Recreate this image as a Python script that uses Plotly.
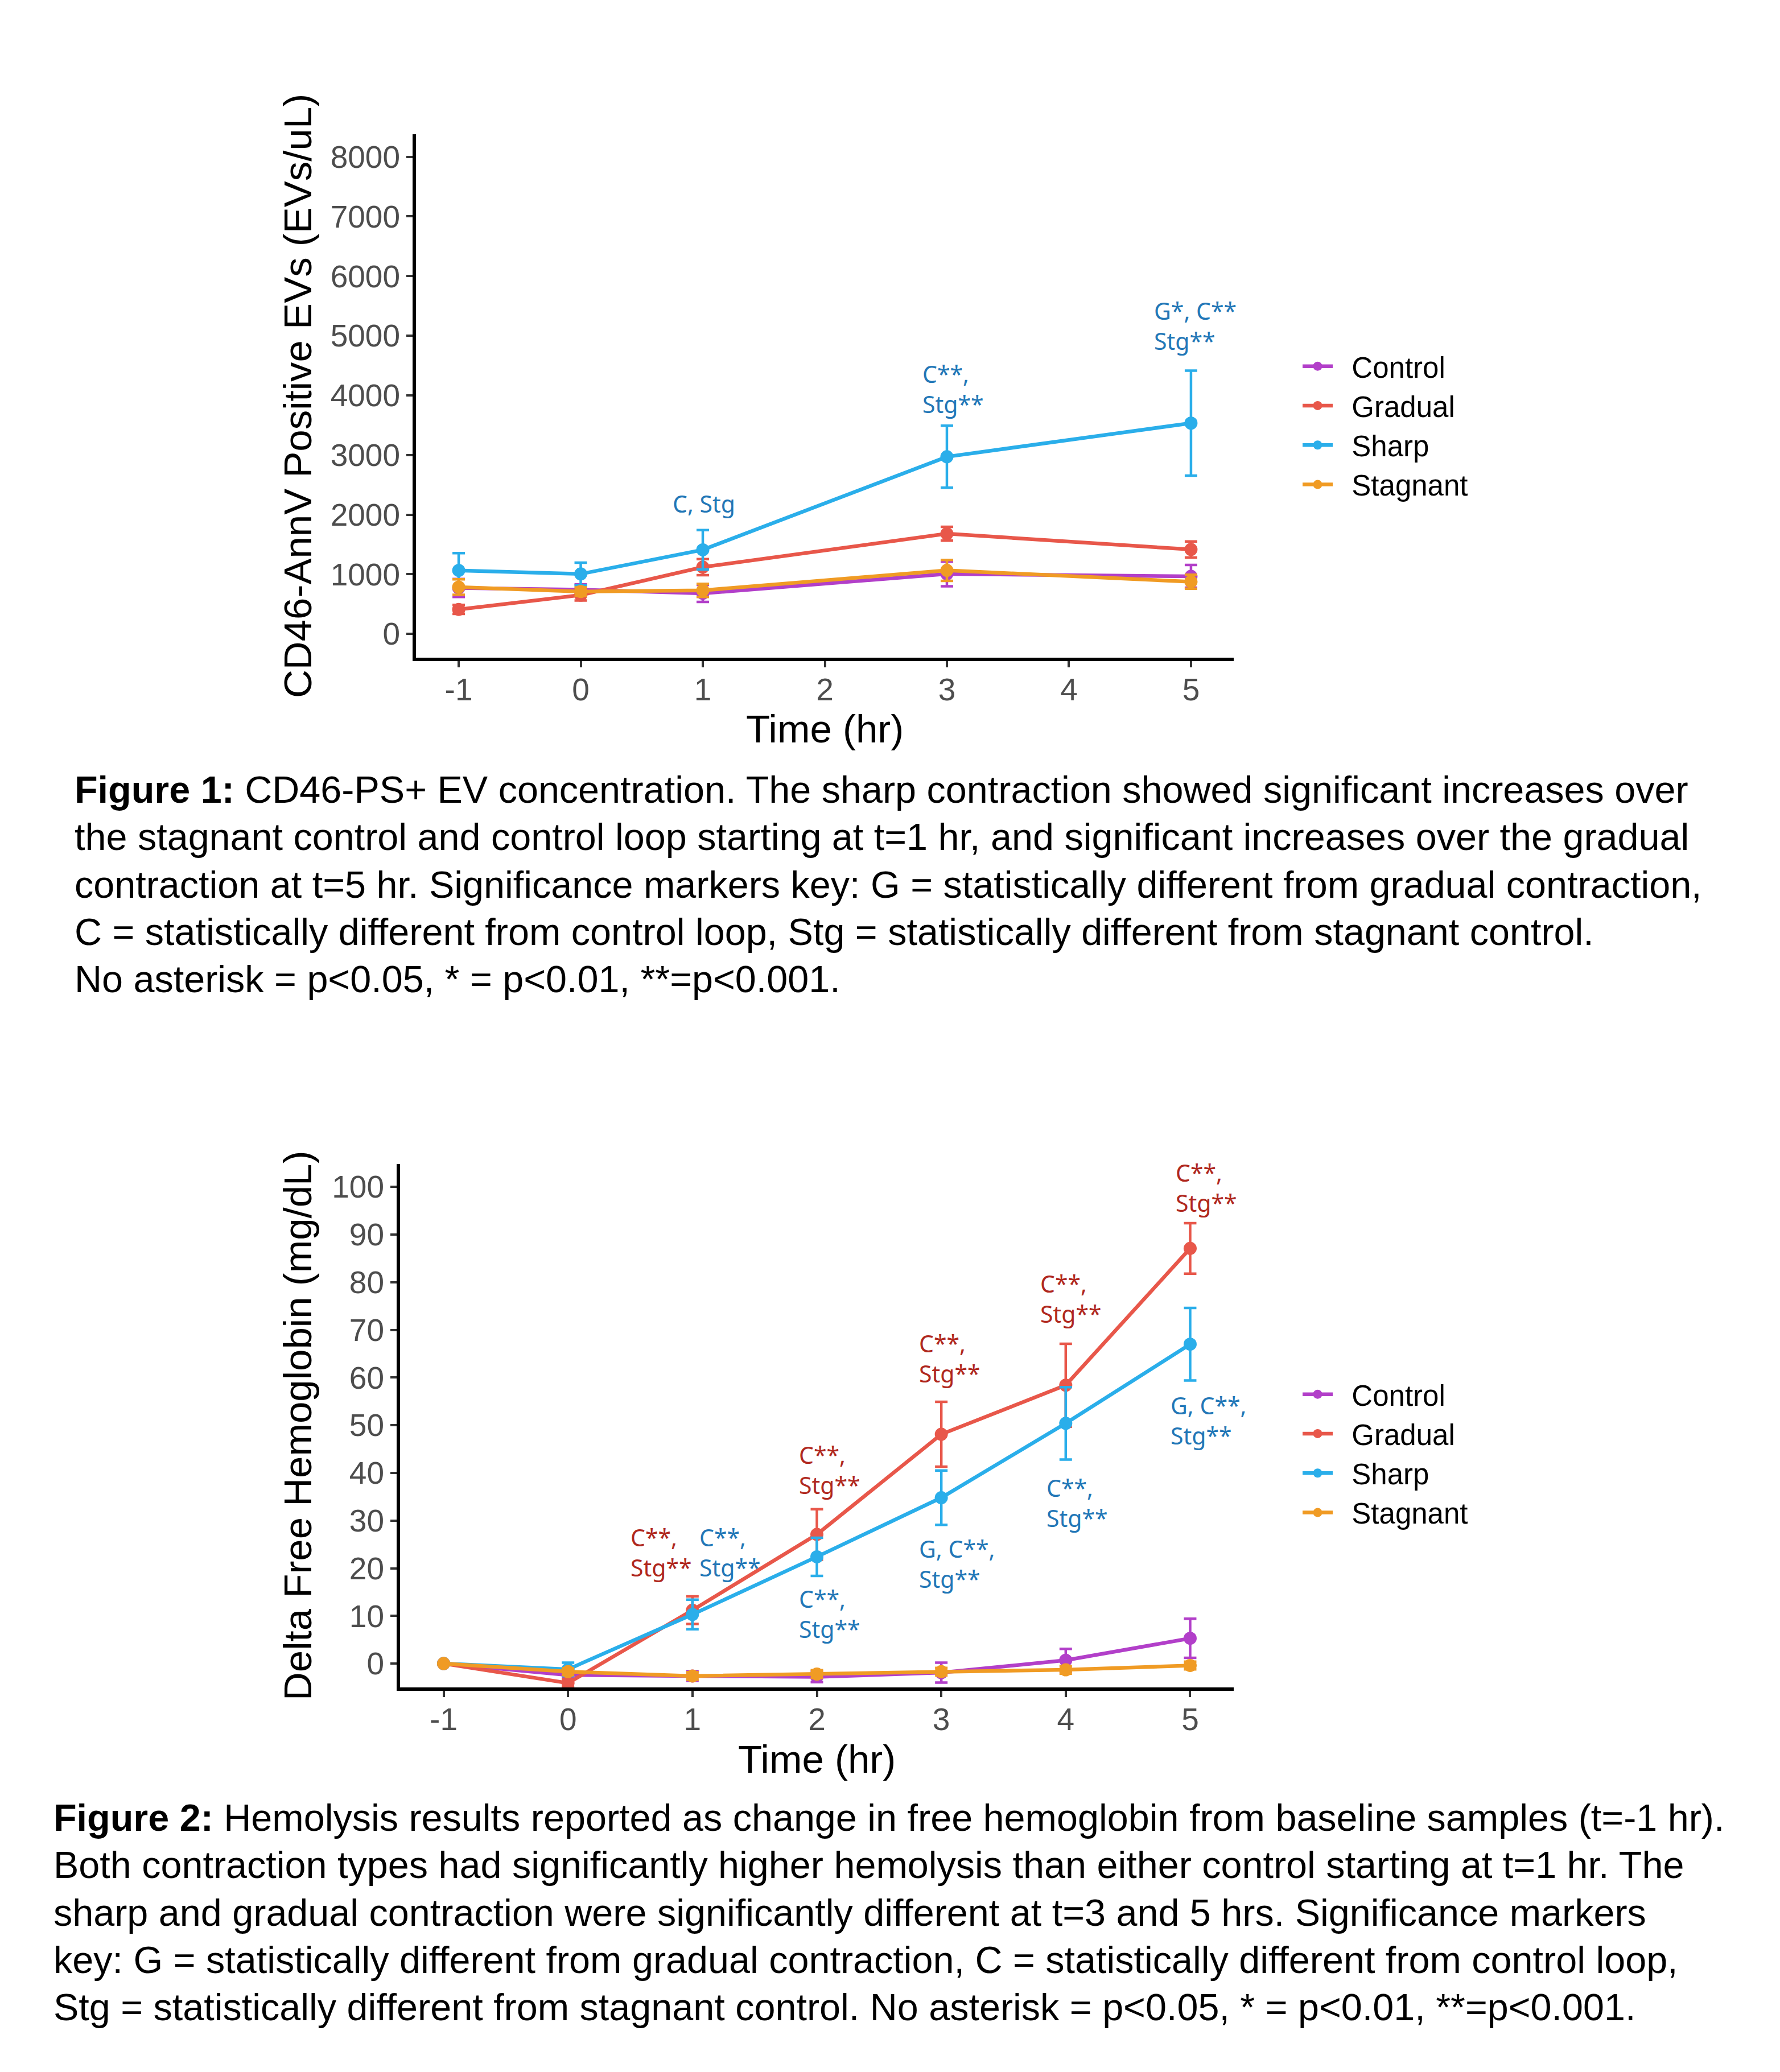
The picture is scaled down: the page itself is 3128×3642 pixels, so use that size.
import plotly.graph_objects as go

# page size; the HTML body has an 8 px default margin, so the figure is made
# 16 px smaller and all page-pixel positions are shifted by that margin.
PAGE_W, PAGE_H = 3128, 3642
OFF = 8
W, H = PAGE_W - 2 * OFF, PAGE_H - 2 * OFF

# ---------------- data: Figure 1 (CD46-AnnV positive EVs) ----------------
time1 = [-1, 0, 1, 3, 5]
cd46_control = [770, 740, 680, 1005, 965]
cd46_control_err = [150, 90, 143, 207, 190]
cd46_gradual = [410, 650, 1120, 1680, 1415]
cd46_gradual_err = [75, 90, 135, 115, 135]
cd46_sharp = [1064, 1005, 1410, 2970, 3534]
cd46_sharp_err = [290, 190, 330, 520, 880]
cd46_stagnant = [785, 710, 730, 1065, 875]
cd46_stagnant_err = [130, 70, 110, 175, 117]

sig1_text = ["C, Stg", "C**,<br>Stg**", "G*, C**<br>Stg**"]
sig1_x = [0.745, 2.79, 4.69]
sig1_y = [2183, 4112, 5172]

# ---------------- data: Figure 2 (delta free hemoglobin) ----------------
time2 = [-1, 0, 1, 2, 3, 4, 5]
hb_control = [0, -2.4, -2.6, -2.8, -1.9, 0.7, 5.3]
hb_control_err = [0, 0.8, 1.0, 1.1, 2.1, 2.4, 4.1]
hb_gradual = [0, -4.1, 11.2, 27.1, 48.1, 58.4, 87.1]
hb_gradual_err = [0, 0.8, 2.9, 5.3, 6.8, 8.7, 5.3]
hb_sharp = [0, -1.2, 10.3, 22.4, 34.8, 50.4, 67.0]
hb_sharp_err = [0, 1.4, 3.1, 4.0, 5.7, 7.6, 7.6]
hb_stagnant = [0, -1.7, -2.6, -2.2, -1.7, -1.3, -0.4]
hb_stagnant_err = [0, 0.7, 0.8, 0.8, 0.8, 0.8, 0.8]

sig2_red_text = ["C**,<br>Stg**"] * 5
sig2_red_x = [0.493, 1.845, 2.814, 3.784, 4.874]
sig2_red_y = [23.4, 40.7, 64.1, 76.6, 99.8]
sig2_blue_text = ["C**,<br>Stg**", "C**,<br>Stg**", "G, C**,<br>Stg**", "C**,<br>Stg**", "G, C**,<br>Stg**"]
sig2_blue_x = [1.048, 1.845, 2.814, 3.836, 4.832]
sig2_blue_y = [23.4, 10.5, 20.9, 33.7, 51.0]

series_names = ["Control", "Gradual", "Sharp", "Stagnant"]
x_ticks = [-1, 0, 1, 2, 3, 4, 5]
y1_ticks = [0, 1000, 2000, 3000, 4000, 5000, 6000, 7000, 8000]
y2_ticks = [0, 10, 20, 30, 40, 50, 60, 70, 80, 90, 100]

caption1 = [
    "<b>Figure 1:</b> CD46-PS+ EV concentration. The sharp contraction showed significant increases over",
    "the stagnant control and control loop starting at t=1 hr, and significant increases over the gradual",
    "contraction at t=5 hr. Significance markers key: G = statistically different from gradual contraction,",
    "C = statistically different from control loop, Stg = statistically different from stagnant control.",
    "No asterisk = p&lt;0.05, * = p&lt;0.01, **=p&lt;0.001.",
]
caption2 = [
    "<b>Figure 2:</b> Hemolysis results reported as change in free hemoglobin from baseline samples (t=-1 hr).",
    "Both contraction types had significantly higher hemolysis than either control starting at t=1 hr. The",
    "sharp and gradual contraction were significantly different at t=3 and 5 hrs. Significance markers",
    "key: G = statistically different from gradual contraction, C = statistically different from control loop,",
    "Stg = statistically different from stagnant control. No asterisk = p&lt;0.05, * = p&lt;0.01, **=p&lt;0.001.",
]

# ---------------- styles ----------------
colors = {"Control": "#B23FC9", "Gradual": "#E8574A", "Sharp": "#2AAEEA", "Stagnant": "#F09B24"}
ann_blue = "#2277B7"
ann_red = "#B0281E"
FONT = "Liberation Sans"
ANN_FONT = "Noto Sans"
LEGEND_PAD = "\u00a0\u00a0"


def px_x(p):
    return (p - OFF) / W


def px_y(p):
    return 1 - (p - OFF) / H


fig = go.Figure()

fig1_series = [
    (cd46_control, cd46_control_err),
    (cd46_gradual, cd46_gradual_err),
    (cd46_sharp, cd46_sharp_err),
    (cd46_stagnant, cd46_stagnant_err),
]
fig2_series = [
    (hb_control, hb_control_err),
    (hb_gradual, hb_gradual_err),
    (hb_sharp, hb_sharp_err),
    (hb_stagnant, hb_stagnant_err),
]

for name, (vals, errs) in zip(series_names, fig1_series):
    c = colors[name]
    fig.add_trace(go.Scatter(
        x=time1, y=vals, name=LEGEND_PAD + name, mode="lines+markers",
        line=dict(color=c, width=6.5), marker=dict(color=c, size=23),
        error_y=dict(type="data", array=errs, visible=True, color=c, thickness=4.5, width=11),
        xaxis="x", yaxis="y", legend="legend",
    ))

for name, (vals, errs) in zip(series_names, fig2_series):
    c = colors[name]
    fig.add_trace(go.Scatter(
        x=time2, y=vals, name=LEGEND_PAD + name, mode="lines+markers",
        line=dict(color=c, width=6.5), marker=dict(color=c, size=23),
        error_y=dict(type="data", array=errs, visible=True, color=c, thickness=4.5, width=11),
        xaxis="x2", yaxis="y2", legend="legend2",
    ))

axis_common = dict(
    showline=True, linecolor="black", linewidth=6,
    ticks="outside", ticklen=11, tickwidth=4, tickcolor="#333333",
    tickfont=dict(family=FONT, size=55, color="#4D4D4D"),
    showgrid=False, zeroline=False,
)

# panel boxes in page pixels
p1_left, p1_right, p1_top, p1_bottom = 731, 2168, 236, 1156
p2_left, p2_right, p2_top, p2_bottom = 703, 2168, 2046, 2966

legend_common = dict(xanchor="left", yanchor="middle",
                     font=dict(family=FONT, size=51, color="black"), itemwidth=53,
                     bgcolor="rgba(0,0,0,0)", tracegroupgap=0)

fig.update_layout(
    width=W, height=H, autosize=False,
    margin=dict(l=0, r=0, t=0, b=0),
    paper_bgcolor="white", plot_bgcolor="white",
    font=dict(family=FONT, color="black"),
    xaxis=dict(domain=[px_x(p1_left), px_x(p1_right)], range=[-1.35, 5.35],
               tickvals=x_ticks, ticktext=[str(v) for v in x_ticks], anchor="y",
               ticklabelstandoff=-8, **axis_common),
    yaxis=dict(domain=[px_y(p1_bottom), px_y(p1_top)], range=[-399, 8378],
               tickvals=y1_ticks, anchor="x", **axis_common),
    xaxis2=dict(domain=[px_x(p2_left), px_x(p2_right)], range=[-1.35, 5.35],
                tickvals=x_ticks, ticktext=[str(v) for v in x_ticks], anchor="y2",
                ticklabelstandoff=-8, **axis_common),
    yaxis2=dict(domain=[px_y(p2_bottom), px_y(p2_top)], range=[-5.0, 104.8],
                tickvals=y2_ticks, anchor="x2", **axis_common),
    legend=dict(x=px_x(2284), y=px_y(748), **legend_common),
    legend2=dict(x=px_x(2284), y=px_y(2555), **legend_common),
    showlegend=True,
)

annotations = []

# axis titles
title_font = dict(family=FONT, size=69, color="black")
annotations.append(dict(text="Time (hr)", xref="paper", yref="paper",
                        x=px_x((p1_left + p1_right) / 2), y=px_y(1282),
                        xanchor="center", yanchor="middle", showarrow=False, font=title_font))
annotations.append(dict(text="Time (hr)", xref="paper", yref="paper",
                        x=px_x((p2_left + p2_right) / 2), y=px_y(3092),
                        xanchor="center", yanchor="middle", showarrow=False, font=title_font))
annotations.append(dict(text="CD46-AnnV Positive EVs (EVs/uL)", xref="paper", yref="paper",
                        x=px_x(523), y=px_y((p1_top + p1_bottom) / 2), textangle=-90,
                        xanchor="center", yanchor="middle", showarrow=False, font=title_font))
annotations.append(dict(text="Delta Free Hemoglobin (mg/dL)", xref="paper", yref="paper",
                        x=px_x(523), y=px_y((p2_top + p2_bottom) / 2), textangle=-90,
                        xanchor="center", yanchor="middle", showarrow=False, font=title_font))

# significance labels
sig_font_size = 41
for t, x, y in zip(sig1_text, sig1_x, sig1_y):
    annotations.append(dict(text=t, x=x, y=y, xref="x", yref="y", xanchor="left", yanchor="middle",
                            align="left", showarrow=False,
                            font=dict(family=ANN_FONT, size=sig_font_size, color=ann_blue)))
for t, x, y in zip(sig2_red_text, sig2_red_x, sig2_red_y):
    annotations.append(dict(text=t, x=x, y=y, xref="x2", yref="y2", xanchor="left", yanchor="middle",
                            align="left", showarrow=False,
                            font=dict(family=ANN_FONT, size=sig_font_size, color=ann_red)))
for t, x, y in zip(sig2_blue_text, sig2_blue_x, sig2_blue_y):
    annotations.append(dict(text=t, x=x, y=y, xref="x2", yref="y2", xanchor="left", yanchor="middle",
                            align="left", showarrow=False,
                            font=dict(family=ANN_FONT, size=sig_font_size, color=ann_blue)))

# captions
cap_font = dict(family=FONT, size=66.5, color="black")
for i, line in enumerate(caption1):
    annotations.append(dict(text=line, xref="paper", yref="paper", x=px_x(129), y=px_y(1388 + 83.3 * i),
                            xanchor="left", yanchor="middle", align="left", showarrow=False, font=cap_font))
for i, line in enumerate(caption2):
    annotations.append(dict(text=line, xref="paper", yref="paper", x=px_x(92), y=px_y(3195 + 83.3 * i),
                            xanchor="left", yanchor="middle", align="left", showarrow=False, font=cap_font))

fig.update_layout(annotations=annotations)

fig.write_html("out.html")
